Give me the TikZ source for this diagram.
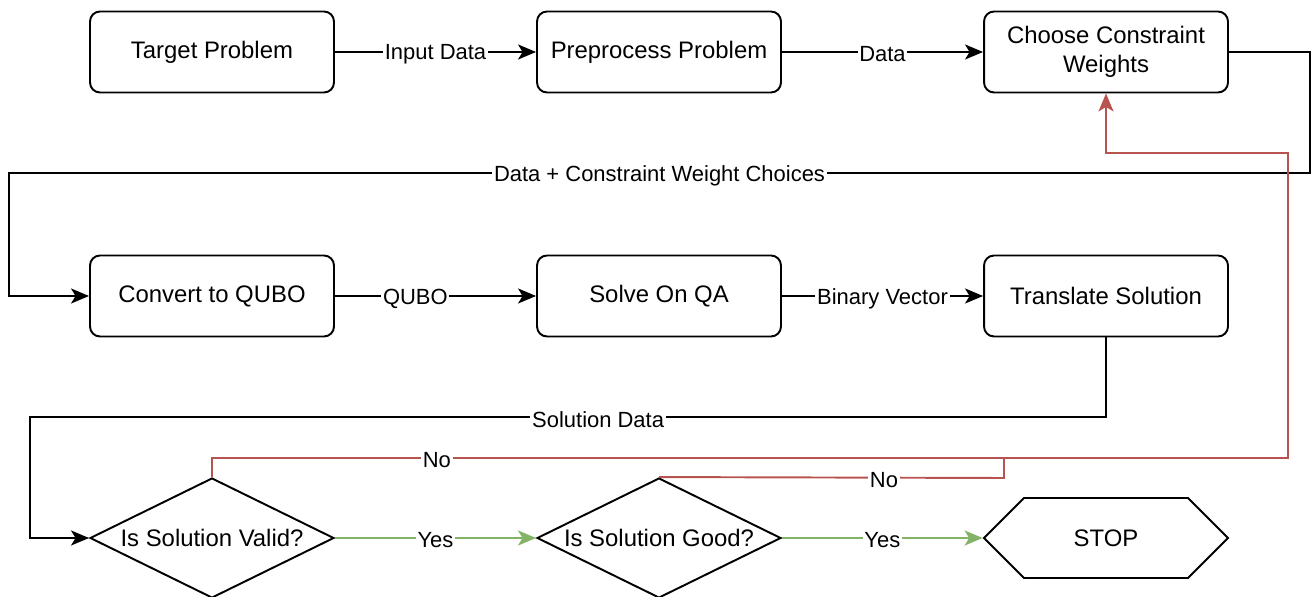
\documentclass[tikz,border=0pt]{standalone}
\usepackage{fontspec}
\setmainfont{Liberation Sans}
\usetikzlibrary{shapes.geometric, shapes.symbols, arrows.meta}
\definecolor{noRed}{HTML}{B85450}
\definecolor{yesGreen}{HTML}{82B366}
\tikzstyle{process} = [rectangle, rounded corners=0.2cm, minimum width=4.88cm, minimum height=1.62cm, text centered, align=center, draw=black, fill=white, font=\fontsize{13.6}{16.4}\selectfont]
\tikzstyle{decision} = [diamond, minimum width=4.88cm, minimum height=2.4cm, inner sep=0pt, draw=black, fill=white]
\tikzstyle{startstop} = [signal, signal to=east and west, signal pointer angle=90, minimum width=4.88cm, minimum height=1.6cm, inner sep=0pt, draw=black, fill=white, font=\fontsize{13.6}{16.4}\selectfont]
\tikzstyle{arrow} = [line width=1.1pt, -{Stealth[length=0.36cm, width=0.3cm, inset=0.09cm]}]
\tikzstyle{lbl} = [fill=white, inner sep=1pt, yshift=-0.05cm, font=\fontsize{12.5}{15}\selectfont]

\begin{document}
\begin{tikzpicture}[x=0.02cm, y=-0.02cm, line width=1.1pt]
            \useasboundingbox (0,0) rectangle (1311,597);
            \node (target) [process] at (212,52) {Target Problem};
            \node (prep) [process] at (659,52) {Preprocess Problem};
            \node (choose) [process] at (1106,52) {Choose Constraint\\Weights};
            \node (convert) [process] at (212,296) {Convert to QUBO};
            \node (solve) [process] at (659,296) {Solve On QA};
            \node (translate) [process] at (1106,296) {Translate Solution};
            \node (valid) [decision, label={[font=\fontsize{13.6}{16.4}\selectfont]center:Is Solution Valid?}] at (212,538) {};
            \node (good) [decision, label={[font=\fontsize{13.6}{16.4}\selectfont]center:Is Solution Good?}] at (659,538) {};
            \node (stop) [startstop] at (1106,538) {STOP};

            \draw [arrow] (target) -- node[lbl] {Input Data} (prep);
            \draw [arrow] (prep) -- node[lbl] {Data} (choose);
            \draw [arrow] (choose.east) -| (1310,173) -- node[lbl] {Data + Constraint Weight Choices} (9,173) |- (convert.west);
            \draw [arrow] (convert) -- node[lbl, pos=0.4] {QUBO} (solve);
            \draw [arrow] (solve) -- node[lbl] {Binary Vector} (translate);
            \draw [arrow] (translate.south) -- (1106,417) -- node[lbl, pos=0.472] {Solution Data} (30,417) |- (valid.west);
            \draw [arrow, draw=yesGreen] (valid) -- node[lbl] {Yes} (good);
            \draw [arrow, draw=yesGreen] (good) -- node[lbl] {Yes} (stop);
            \draw [arrow, draw=noRed] (valid.north) -- (212,458) -- node[lbl, pos=0.209] {No} (1288,458) -- (1288,153) -| (choose.south);
            \draw [draw=noRed] (good.north) -- node[lbl, pos=0.652] {No} (1004,478) -- (1004,458);
        \end{tikzpicture}
\end{document}
